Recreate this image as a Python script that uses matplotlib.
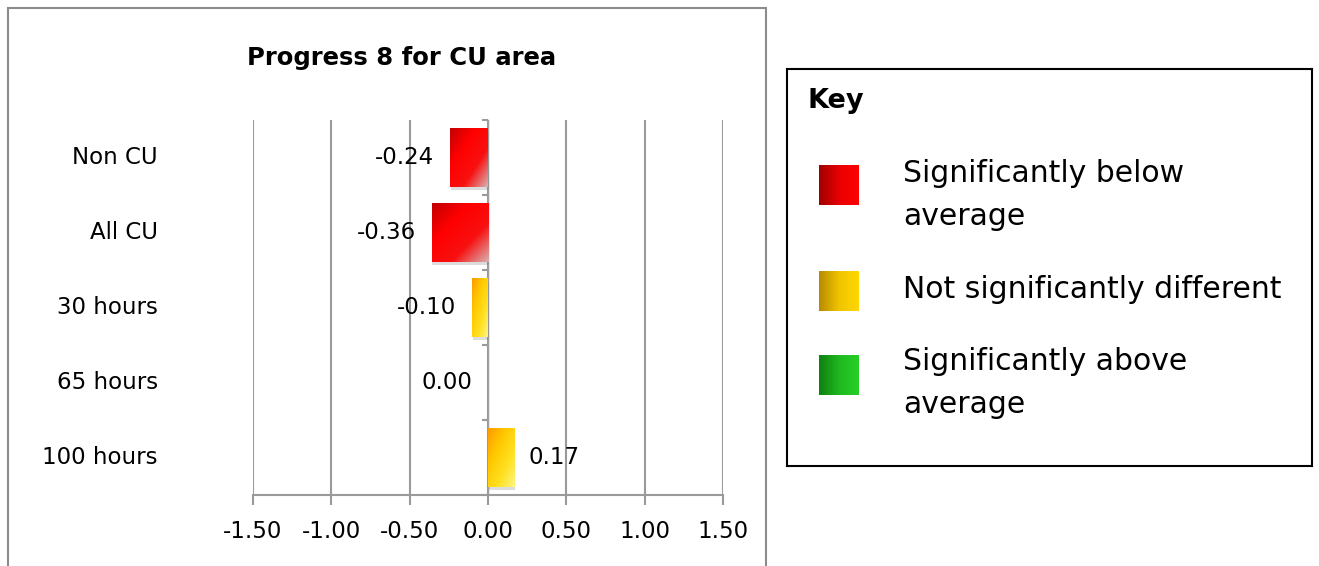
import numpy as np
import matplotlib
matplotlib.use("Agg")
import matplotlib.pyplot as plt
import matplotlib.patheffects as pe
from matplotlib.colors import LinearSegmentedColormap
from matplotlib.patches import Rectangle
from matplotlib.transforms import blended_transform_factory

# ---- data ----
categories = ["Non CU", "All CU", "30 hours", "65 hours", "100 hours"]
values = [-0.24, -0.36, -0.10, 0.00, 0.17]
bands = ["below", "below", "not_sig", "not_sig", "not_sig"]
x_ticks = [-1.50, -1.00, -0.50, 0.00, 0.50, 1.00, 1.50]

key_labels = ["Significantly below\naverage",
              "Not significantly different",
              "Significantly above\naverage"]
key_bands = ["below", "not_sig", "above"]

# ---- styling ----
BAR_STOPS = {
    "below":   ["#c20000", "#ff0000", "#f81010", "#d9b0b0"],
    "not_sig": ["#ff9900", "#ffc800", "#ffe020", "#fff680"],
    "above":   ["#0f7f1f", "#22c022", "#40d840", "#b0e0b0"],
}
KEY_STOPS = {
    "below":   ["#a00000", "#e80000", "#ff0000"],
    "not_sig": ["#b88a00", "#f0c400", "#ffd700"],
    "above":   ["#108010", "#1fb81f", "#26d026"],
}
GRID = "#9a9a9a"
FS = 16.5

plt.rcParams["font.family"] = "DejaVu Sans"


def gradient(stops, diagonal=True, n=80):
    cmap = LinearSegmentedColormap.from_list("g", stops)
    xx, yy = np.meshgrid(np.linspace(0, 1, n), np.linspace(0, 1, n))
    t = (xx + yy) / 2 if diagonal else xx
    return cmap(t)


W, H = 1319, 566
fig = plt.figure(figsize=(W / 100, H / 100), dpi=100)

# chart frame (runs off the bottom edge)
fig.patches.append(Rectangle((8 / W, -0.1), 758 / W, 1.1 - 8 / H,
                             transform=fig.transFigure, fill=False,
                             ec="#8c8c8c", lw=1.5))

fig.text(402 / W, 1 - 58 / H, "Progress 8 for CU area", ha="center",
         va="center", fontsize=17.5, fontweight="bold")

ax = fig.add_axes([253 / W, 1 - 495 / H, 470 / W, 375 / H])
ypos = np.arange(len(categories))
bar_h = 0.78

bars = ax.barh(ypos, values, height=bar_h, color="#dddddd", zorder=3,
               path_effects=[pe.SimplePatchShadow(offset=(0.5, -2.5), shadow_rgbFace="#777777", alpha=0.25),
                             pe.Normal()])
for i, (bar, v, b) in enumerate(zip(bars, values, bands)):
    if v == 0:
        continue
    left = min(0.0, v)
    im = ax.imshow(gradient(BAR_STOPS[b]), extent=(left, left + abs(v), i + bar_h / 2, i - bar_h / 2),
                   origin="upper", aspect="auto", interpolation="bilinear", zorder=4)
    im.set_clip_path(bar)

# value labels
for i, v in enumerate(values):
    if v > 0:
        off, ha = 10, "left"
    else:
        off, ha = -11.5, "right"
    ax.annotate(f"{v:.2f}", xy=(v, i), xytext=(off, 0), textcoords="offset points",
                ha=ha, va="center", fontsize=FS, zorder=5)

ax.set_xlim(-1.5, 1.5)
ax.set_ylim(len(categories) - 0.5, -0.5)

ax.set_xticks(x_ticks)
ax.set_xticklabels([f"{t:.2f}" for t in x_ticks])
ax.xaxis.grid(True, color=GRID, lw=1.5)
ax.set_axisbelow(True)
ax.tick_params(axis="x", direction="out", length=7, width=1.5, color=GRID,
               labelsize=FS, pad=11)

ax.spines["top"].set_visible(False)
ax.spines["right"].set_visible(False)
ax.spines["bottom"].set_color(GRID)
ax.spines["bottom"].set_linewidth(1.5)
ax.spines["left"].set_position(("data", 0))
ax.spines["left"].set_color("#a0a0a0")
ax.spines["left"].set_linewidth(1)

ax.set_yticks(ypos)
ax.set_yticklabels([])
ax.set_yticks(np.arange(-0.5, len(categories), 1), minor=True)
ax.tick_params(axis="y", which="major", length=0)
ax.tick_params(axis="y", which="minor", direction="out", length=4, width=1.5, color=GRID)

trans = blended_transform_factory(fig.transFigure, ax.transData)
for i, cat in enumerate(categories):
    ax.text(158 / W, i, cat, transform=trans, ha="right", va="center", fontsize=FS)

# ---- key ----
kx0, ky0, kx1, ky1 = 787, 69, 1312, 466
kax = fig.add_axes([kx0 / W, 1 - ky1 / H, (kx1 - kx0) / W, (ky1 - ky0) / H])
kax.set_xticks([])
kax.set_yticks([])
for s in kax.spines.values():
    s.set_color("black")
    s.set_linewidth(1.5)

kax.text(21, 32, "Key", ha="left", va="center", fontsize=19.5, fontweight="bold")
swatch_y = [116, 222, 306]
text_y = [126, 220, 314]
for sy, ty, lab, b in zip(swatch_y, text_y, key_labels, key_bands):
    kax.imshow(gradient(KEY_STOPS[b], diagonal=False), extent=(32, 72, sy + 20, sy - 20),
               origin="upper", aspect="auto", interpolation="bilinear")
    kax.text(116, ty, lab, ha="left", va="center", fontsize=21.5, linespacing=1.65)
kax.set_xlim(0, kx1 - kx0)
kax.set_ylim(ky1 - ky0, 0)

fig.savefig("out.png", dpi=100)
